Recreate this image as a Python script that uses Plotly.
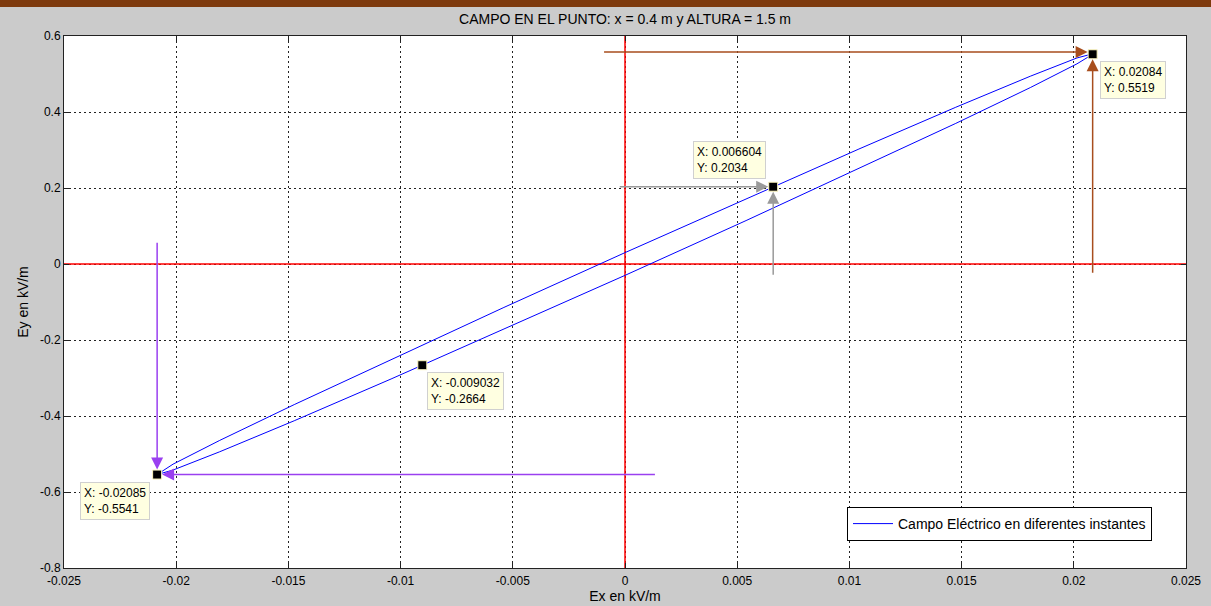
import plotly.graph_objects as go

# Electric field components over one period (kV/m)
ex_vals = [0.02085, 0.02014, 0.01806, 0.01474, 0.010425, 0.006604, 0.005396, 0.0,
           -0.005396, -0.010425, -0.01474, -0.01806, -0.02014, -0.02085,
           -0.02014, -0.01806, -0.01474, -0.010425, -0.009032, -0.005396, 0.0,
           0.005396, 0.010425, 0.01474, 0.01806, 0.02014, 0.02084, 0.02085]
ey_vals = [0.5533, 0.5422, 0.4941, 0.4125, 0.3026, 0.2034, 0.1721, 0.0299,
           -0.1143, -0.2508, -0.3700, -0.4642, -0.5267, -0.5541,
           -0.5422, -0.4941, -0.4125, -0.3026, -0.2664, -0.1721, -0.0299,
           0.1143, 0.2508, 0.3700, 0.4642, 0.5267, 0.5519, 0.5533]

# Marked instants (data tips)
tip_x = [0.02084, 0.006604, -0.009032, -0.02085]
tip_y = [0.5519, 0.2034, -0.2664, -0.5541]

x_range = [-0.025, 0.025]
y_range = [-0.8, 0.6]
x_ticks = [-0.025, -0.02, -0.015, -0.01, -0.005, 0, 0.005, 0.01, 0.015, 0.02, 0.025]
x_tick_text = ["-0.025", "-0.02", "-0.015", "-0.01", "-0.005", "0", "0.005", "0.01", "0.015", "0.02", "0.025"]
y_ticks = [-0.8, -0.6, -0.4, -0.2, 0, 0.2, 0.4, 0.6]
y_tick_text = ["-0.8", "-0.6", "-0.4", "-0.2", "0", "0.2", "0.4", "0.6"]

W, H = 1211, 606
ML, MR, MT, MB = 64, 25, 36, 38
PW, PH = W - ML - MR, H - MT - MB
FONT = "Liberation Sans, Arial, sans-serif"

fig = go.Figure()

# red reference axes through the origin
fig.add_trace(go.Scatter(x=x_range, y=[0, 0], mode="lines",
                         line=dict(color="#ff0000", width=1.5),
                         showlegend=False, hoverinfo="skip"))
fig.add_trace(go.Scatter(x=[0, 0], y=y_range, mode="lines",
                         line=dict(color="#ff0000", width=1.5),
                         showlegend=False, hoverinfo="skip"))

fig.add_trace(go.Scatter(
    x=ex_vals, y=ey_vals, mode="lines",
    line=dict(color="#0000ff", width=1),
    name="Campo Eléctrico en diferentes instantes",
))
fig.add_trace(go.Scatter(
    x=tip_x, y=tip_y, mode="markers",
    marker=dict(symbol="square", size=9, color="black",
                line=dict(color="#fff8c0", width=1)),
    showlegend=False, hoverinfo="skip",
))

# Data tip boxes: (xanchor, yanchor, xshift, yshift)
tip_place = [("left", "top", 7, -7), ("right", "bottom", -7, 8),
             ("left", "top", 5, -7), ("right", "top", -7, -7)]
for tx, ty, (xa, ya, xs, ys) in zip(tip_x, tip_y, tip_place):
    fig.add_annotation(
        x=tx, y=ty, xref="x", yref="y", showarrow=False,
        text=f"X: {tx:.4g}<br>Y: {ty:.4g}", align="left",
        xanchor=xa, yanchor=ya, xshift=xs, yshift=ys,
        bgcolor="#ffffe1", bordercolor="#d0d0d0", borderwidth=1, borderpad=3,
        font=dict(family=FONT, size=12, color="black"),
    )

def arrow(hx, hy, tx, ty, color):
    fig.add_annotation(
        x=hx, y=hy, ax=tx, ay=ty, xref="x", yref="y", axref="x", ayref="y",
        showarrow=True, arrowhead=2, arrowsize=1.6, arrowwidth=1.5,
        arrowcolor=color, standoff=5, text="",
    )

brown, grey, purple = "#a84e1e", "#9a9a9a", "#9a40f0"
# right tip
arrow(tip_x[0], 0.5579, -0.001, 0.5579, brown)
arrow(tip_x[0], tip_y[0], tip_x[0], -0.027, brown)
# upper-branch tip
arrow(tip_x[1], tip_y[1], -0.0003, tip_y[1], grey)
arrow(tip_x[1], tip_y[1], tip_x[1], -0.032, grey)
# left tip
arrow(tip_x[3], tip_y[3], tip_x[3], 0.06, purple)
arrow(tip_x[3], tip_y[3], 0.0014, tip_y[3], purple)

axis_common = dict(
    showline=True, linecolor="#222222", linewidth=1, mirror="ticks",
    ticks="inside", ticklen=5, tickcolor="#222222",
    showgrid=True, gridcolor="#222222", gridwidth=1, griddash="2px,3px",
    zeroline=False, automargin=False,
    tickfont=dict(family=FONT, size=12, color="black"),
)

fig.update_layout(
    width=W, height=H,
    margin=dict(l=ML, r=MR, t=MT, b=MB),
    paper_bgcolor="#cbcbcb", plot_bgcolor="white",
    title=dict(text="CAMPO EN EL PUNTO: x = 0.4 m y ALTURA = 1.5 m",
               x=(ML + PW / 2) / W, xanchor="center",
               y=1 - 19 / H, yanchor="middle", yref="container",
               font=dict(family=FONT, size=14, color="black")),
    xaxis=dict(range=x_range, tickvals=x_ticks, ticktext=x_tick_text,
               ticklabelstandoff=2,
               title=dict(text="Ex en kV/m", standoff=3,
                          font=dict(family=FONT, size=14, color="black")),
               **axis_common),
    yaxis=dict(range=y_range, tickvals=y_ticks, ticktext=y_tick_text,
               title=dict(text="Ey en kV/m", standoff=8,
                          font=dict(family=FONT, size=14, color="black")),
               **axis_common),
    legend=dict(x=(847 - ML) / PW, y=(H - MB - 507) / PH,
                xanchor="left", yanchor="top", itemwidth=40,
                bgcolor="white", bordercolor="black", borderwidth=1,
                font=dict(family=FONT, size=14, color="black")),
    showlegend=True,
)

# window frame bar along the top edge
fig.add_shape(type="rect", xref="paper", yref="paper",
              x0=-ML / PW, x1=1 + MR / PW,
              y0=1 + (MT - 7) / PH, y1=1 + MT / PH,
              fillcolor="#7e3a0d", line=dict(width=0), layer="above")

fig.write_html("out.html")
